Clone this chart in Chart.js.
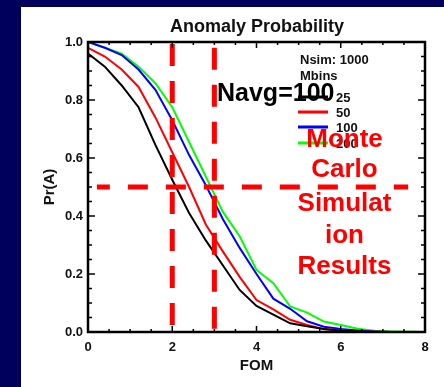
<!DOCTYPE html>
<html>
<head>
    <title>Anomaly Probability</title>
    <script src="https://cdn.jsdelivr.net/npm/chart.js"></script>
    <style>
        body { margin: 0; background: #00005c; }
        #panel { position: absolute; left: 21px; top: 7px; width: 423px; height: 380px; background: #fff; }
    </style>
</head>
<body>
    <div id="panel"><canvas id="probChart" width="423" height="380"></canvas></div>

    <script>
    // FOM grid (x) and Pr(A) for each Mbins setting
    const fom = [0, 0.4, 0.8, 1.2, 1.6, 2.0, 2.4, 2.8, 3.2, 3.6, 4.0, 4.4, 4.8, 5.2, 5.6, 6.0, 6.4, 6.8, 7.2, 7.6, 8.0];
    const mbins25  = [0.96, 0.915, 0.85, 0.775, 0.645, 0.525, 0.41, 0.315, 0.23, 0.145, 0.09, 0.06, 0.03, 0.02, 0.01, 0.004, 0.002, 0, 0, 0, 0];
    const mbins50  = [0.98, 0.95, 0.905, 0.845, 0.74, 0.62, 0.5, 0.37, 0.278, 0.19, 0.11, 0.078, 0.042, 0.024, 0.01, 0.005, 0.002, 0.001, 0, 0, 0];
    const mbins100 = [1.0, 0.98, 0.955, 0.905, 0.835, 0.73, 0.61, 0.505, 0.39, 0.29, 0.2, 0.115, 0.08, 0.037, 0.018, 0.01, 0.005, 0.002, 0, 0, 0];
    const mbins200 = [1.0, 0.98, 0.96, 0.915, 0.858, 0.775, 0.655, 0.535, 0.415, 0.33, 0.214, 0.168, 0.088, 0.067, 0.036, 0.024, 0.011, 0.004, 0.002, 0.001, 0];

    const seriesLabels = ['25', '50', '100', '200'];
    const seriesColors = ['#000000', '#ff0000', '#0000ff', '#00ff00'];

    // red dashed markers
    const cutFom = [2, 3];
    const cutTop = [0.993, 0.98];
    const cutProb = 0.5;
    const cutProbRange = [0.21, 7.6];

    const titleText = 'Anomaly Probability';
    const legendHead = ['Nsim: 1000', 'Mbins'];
    const navgText = 'Navg=100';
    const noteLines = ['Monte', 'Carlo', 'Simulat', 'ion', 'Results'];

    const FONT = '"Liberation Sans", Arial, sans-serif';
    const toPts = arr => fom.map((f, i) => ({ x: f, y: arr[i] }));

    // box with inward ticks on all four sides
    const frameTicks = {
        id: 'frameTicks',
        afterDatasetsDraw(chart) {
            const { ctx, chartArea: a, scales: { x, y } } = chart;
            ctx.save();
            ctx.strokeStyle = '#000';
            ctx.lineWidth = 1.5;
            ctx.beginPath();
            for (let i = 0; i <= 16; i++) {
                const px = x.getPixelForValue(i / 2);
                const len = i % 4 === 0 ? 6 : 3;
                ctx.moveTo(px, a.bottom); ctx.lineTo(px, a.bottom - len);
                ctx.moveTo(px, a.top); ctx.lineTo(px, a.top + len);
            }
            for (let i = 0; i <= 20; i++) {
                const py = y.getPixelForValue(i * 0.05);
                const len = i % 4 === 0 ? 7 : 4;
                ctx.moveTo(a.left, py); ctx.lineTo(a.left + len, py);
                ctx.moveTo(a.right, py); ctx.lineTo(a.right - len, py);
            }
            ctx.stroke();
            ctx.lineWidth = 2.5;
            ctx.strokeRect(a.left, a.top, a.right - a.left, a.bottom - a.top);
            ctx.restore();
        }
    };

    const overlayText = {
        id: 'overlayText',
        afterDraw(chart) {
            const ctx = chart.ctx;
            ctx.save();
            ctx.textBaseline = 'alphabetic';

            ctx.fillStyle = '#111';
            ctx.font = 'bold 18px ' + FONT;
            ctx.textAlign = 'center';
            ctx.fillText(titleText, 236, 25);

            // legend
            ctx.font = 'bold 13px ' + FONT;
            ctx.textAlign = 'left';
            ctx.fillText(legendHead[0], 279, 57);
            ctx.fillText(legendHead[1], 279, 73);
            const rowY = [90, 105, 120, 136];
            seriesLabels.forEach((lab, i) => {
                ctx.strokeStyle = seriesColors[i];
                ctx.lineWidth = 3;
                ctx.beginPath();
                ctx.moveTo(277, rowY[i]); ctx.lineTo(307, rowY[i]);
                ctx.stroke();
                ctx.fillStyle = '#111';
                ctx.fillText(lab, 315, rowY[i] + 5);
            });

            ctx.fillStyle = '#000';
            ctx.font = 'bold 25px ' + FONT;
            ctx.fillText(navgText, 196, 94);

            ctx.fillStyle = '#ff0000';
            ctx.font = 'bold 26px ' + FONT;
            ctx.textAlign = 'center';
            const base = [140, 170, 204, 236, 267];
            noteLines.forEach((t, i) => ctx.fillText(t, 323.5, base[i]));
            ctx.restore();
        }
    };

    const dashed = {
        borderColor: '#ff0000',
        borderWidth: 5,
        borderCapStyle: 'butt',
        pointRadius: 0
    };

    const datasets = [
        Object.assign({ data: [{ x: cutFom[0], y: cutTop[0] }, { x: cutFom[0], y: 0.005 }], borderDash: [22, 15] }, dashed),
        Object.assign({ data: [{ x: cutFom[1], y: cutTop[1] }, { x: cutFom[1], y: 0.005 }], borderDash: [22, 15] }, dashed),
        Object.assign({ data: [{ x: cutProbRange[0], y: cutProb }, { x: cutProbRange[1], y: cutProb }], borderDash: [20, 18], borderDashOffset: 7 }, dashed)
    ];
    [mbins25, mbins50, mbins100, mbins200].forEach((arr, i) => {
        datasets.push({
            label: seriesLabels[i],
            data: toPts(arr),
            borderColor: seriesColors[i],
            borderWidth: 2,
            pointRadius: 0,
            fill: false
        });
    });

    const tickFont = { family: FONT, size: 13, weight: 'bold' };
    const titleFont = { family: FONT, size: 15, weight: 'bold' };

    new Chart(document.getElementById('probChart').getContext('2d'), {
        type: 'line',
        data: { datasets: datasets },
        options: {
            responsive: false,
            animation: false,
            devicePixelRatio: 1,
            layout: { padding: { left: 0, right: 19, top: 35, bottom: 0 } },
            elements: { line: { tension: 0 } },
            plugins: {
                legend: { display: false },
                tooltip: { enabled: false }
            },
            scales: {
                x: {
                    type: 'linear',
                    min: 0,
                    max: 8,
                    afterFit: s => { s.height = 55; },
                    grid: { display: false, drawTicks: false },
                    border: { display: false },
                    ticks: { stepSize: 2, padding: 8, color: '#111', font: tickFont, maxRotation: 0 },
                    title: { display: true, text: 'FOM', color: '#111', font: titleFont, padding: { top: 0, bottom: 12 } }
                },
                y: {
                    min: 0,
                    max: 1,
                    afterFit: s => { s.width = 67; },
                    grid: { display: false, drawTicks: false },
                    border: { display: false },
                    ticks: { stepSize: 0.2, padding: 5, color: '#111', font: tickFont, callback: v => v.toFixed(1) },
                    title: { display: true, text: 'Pr(A)', color: '#111', font: titleFont, padding: { top: 20, bottom: 0 } }
                }
            }
        },
        plugins: [frameTicks, overlayText]
    });
    </script>
</body>
</html>
